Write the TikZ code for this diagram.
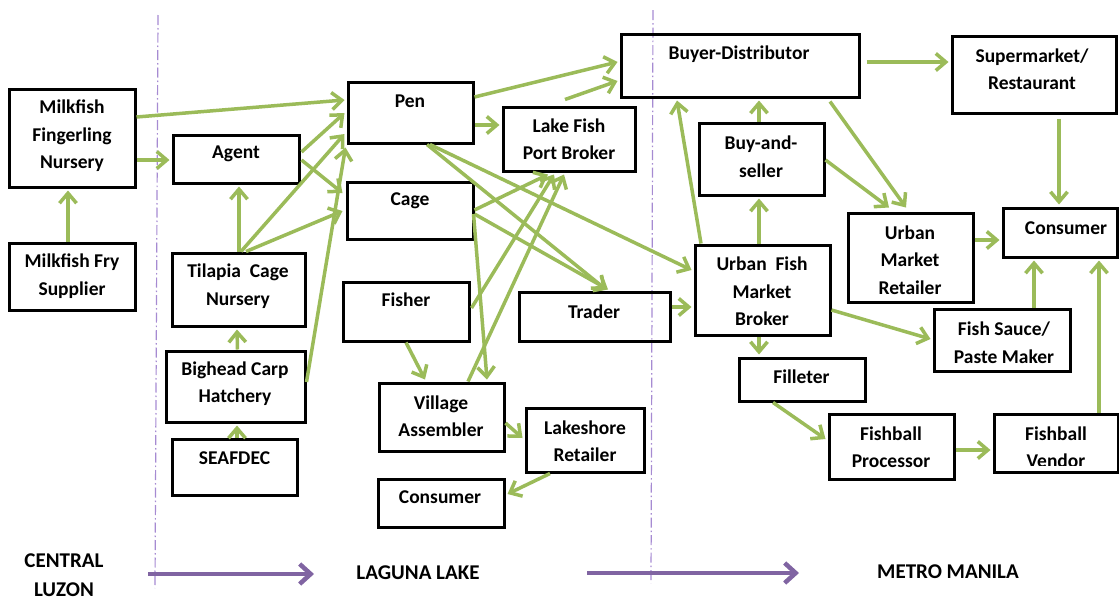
\documentclass[tikz,border=0pt]{standalone}
\usepackage{fontspec}
\setmainfont{Carlito}
\usetikzlibrary{arrows.meta,calc,fit}
\definecolor{arrgreen}{HTML}{9BBB59}
\definecolor{regpurple}{HTML}{8064A2}
\definecolor{divpurple}{HTML}{A68BD2}
\tikzset{
  stagebox/.style={draw=black, line width=3pt, inner sep=0pt, rectangle},
  lbl/.style={font=\fontsize{19.5}{27.5}\selectfont\bfseries, align=center, inner sep=0pt},
  region/.style={font=\fontsize{21}{29}\selectfont\bfseries, align=center, inner sep=0pt},
  arr/.style={draw=arrgreen, line width=3.5pt, -{Straight Barb[length=10pt,width=17pt]}},
  regarrow/.style={draw=regpurple, line width=4.5pt, -{Straight Barb[length=11pt,width=20pt]}},
  divider/.style={draw=divpurple, line width=1.2pt, dash pattern=on 10pt off 3pt on 1.5pt off 3pt}
}
\begin{document}
\begin{tikzpicture}[x=1pt,y=-1pt]
\useasboundingbox (0,0) rectangle (1119,600);

% dividers
\draw[divider] (158,15) -- (155,588);
\draw[divider] (653,10) -- (651,583);

% boxes
\node[stagebox, fit={(9,89) (135,187)}] (fing) {};
\node[stagebox, fit={(9,243) (135,310)}] (fry) {};
\node[stagebox, fit={(173,135) (299,183)}] (agent) {};
\node[stagebox, fit={(172,253) (305,326)}] (tilapia) {};
\node[stagebox, fit={(166,351) (305,422)}] (bighead) {};
\node[stagebox, fit={(172,439) (297,495)}] (seafdec) {};
\node[stagebox, fit={(348,82) (473,143)}] (pen) {};
\node[stagebox, fit={(347,182) (473,239)}] (cage) {};
\node[stagebox, fit={(503,107) (635,171)}] (lfpb) {};
\node[stagebox, fit={(621,34) (859,97)}] (bd) {};
\node[stagebox, fit={(343,282) (469,341)}] (fisher) {};
\node[stagebox, fit={(519,292) (670,341)}] (trader) {};
\node[stagebox, fit={(379,383) (504,451)}] (va) {};
\node[stagebox, fit={(526,408) (644,472)}] (lr) {};
\node[stagebox, fit={(378,479) (504,527)}] (consA) {};
\node[stagebox, fit={(952,36) (1116,113)}] (sr) {};
\node[stagebox, fit={(699,123) (824,195)}] (bs) {};
\node[stagebox, fit={(695,245) (830,335)}] (ufmb) {};
\node[stagebox, fit={(848,213) (973,302)}] (umr) {};
\node[stagebox, fit={(1003,208) (1117,257)}] (consB) {};
\node[stagebox, fit={(934,309) (1070,371)}] (fsp) {};
\node[stagebox, fit={(739,358) (865,401)}] (fil) {};
\node[stagebox, fit={(829,414) (954,479)}] (fbp) {};
\node[stagebox, fit={(994,414) (1118,472)}] (fbv) {};

% texts
\node[lbl] (fing-t) at (72,136) {Milkfish\\Fingerling\\Nursery};
\node[lbl] (fry-t) at (72,276) {Milkfish Fry\\Supplier};
\node[lbl] (agent-t) at (236,154) {Agent};
\node[lbl] (tilapia-t) at (238,286) {Tilapia\ \ Cage\\Nursery};
\node[lbl] (bighead-t) at (235,383.5) {Bighead Carp\\Hatchery};
\node[lbl] (seafdec-t) at (234.5,458) {SEAFDEC};
\node[lbl] (pen-t) at (410,101) {Pen};
\node[lbl] (cage-t) at (410,201) {Cage};
\node[lbl] (lfpb-t) at (569,139) {Lake Fish\\Port Broker};
\node[lbl] (bd-t) at (739,54) {Buyer-Distributor};
\node[lbl] (fisher-t) at (406,300) {Fisher};
\node[lbl] (trader-t) at (594,312) {Trader};
\node[lbl] (va-t) at (441,416) {Village\\Assembler};
\node[lbl] (lr-t) at (585,441) {Lakeshore\\Retailer};
\node[lbl] (consA-t) at (440,497) {Consumer};
\node[lbl] (sr-t) at (1032,69) {Supermarket/\\Restaurant};
\node[lbl] (bs-t) at (761,156.5) {Buy-and-\\seller};
\node[lbl] (ufmb-t) at (762,291.5) {Urban\ \ Fish\\Market\\Broker};
\node[lbl] (umr-t) at (910,260) {Urban\\Market\\Retailer};
\node[lbl] (consB-t) at (1066,228) {Consumer};
\node[lbl] (fsp-t) at (1004,342.5) {Fish Sauce/\\Paste Maker};
\node[lbl] (fil-t) at (801.5,377) {Filleter};
\node[lbl] (fbp-t) at (891,447) {Fishball\\Processor};
\begin{scope}
  \clip (994,414) rectangle (1118,465);
  \node[lbl] (fbv-t) at (1056,447) {Fishball\\Vendor};
\end{scope}

% region labels and arrows
\node[region] (rlA) at (64,575.5) {CENTRAL\\LUZON};
\node[region] (rlB) at (418,573) {LAGUNA LAKE};
\node[region] (rlC) at (948,572) {METRO MANILA};
\coordinate (raS) at (148,574);
\coordinate (raE) at (314,574);
\coordinate (rbS) at (587,573);
\coordinate (rbE) at (799,573);
\draw[regarrow] (raS) -- (raE);
\draw[regarrow] (rbS) -- (rbE);

% connectors
\draw[arr] ($(fry.north)+(-4,0)$) -- ($(fing.south)+(-4,2)$);
\draw[arr] ($(fing.east)+(0,-21)$) -- ($(pen.west)+(-2,-12.5)$);
\draw[arr] ($(fing.east)+(0,22)$) -- ($(agent.west)+(-2,1)$);
\draw[arr] ($(agent.east)+(1,-7)$) -- ($(pen.west)+(-2,0.5)$);
\draw[arr] ($(agent.east)+(1,1)$) -- ($(cage.west)+(-3,-17.5)$);
\draw[arr] ($(tilapia.north)+(0.5,0)$) -- ($(agent.south)+(3,2)$);
\draw[arr] ($(tilapia.north)+(2.5,0)$) -- ($(pen.west)+(-2,21.5)$);
\draw[arr] ($(tilapia.north)+(7.5,0)$) -- ($(cage.west)+(-3,0.5)$);
\draw[arr] ($(bighead.east)+(0,-4.5)$) -- ($(pen.south west)+(-1,3)$);
\draw[arr] ($(bighead.north)+(2,0)$) -- ($(tilapia.south)+(-1.5,2)$);
\draw[arr] ($(seafdec.north)+(2.5,0)$) -- ($(bighead.south)+(1.5,2)$);
\draw[arr] ($(pen.east)+(0,-15.5)$) -- ($(bd.west)+(-2,-3.5)$);
\draw[arr] ($(pen.east)+(0,12.5)$) -- ($(lfpb.west)+(-2,-14)$);
\draw[arr] ($(lfpb.north)+(-4,-6)$) -- ($(bd.west)+(-2,15.5)$);
\draw[arr] ($(pen.south)+(19.5,0)$) -- ($(ufmb.west)+(-2,-20)$);
\draw[arr] ($(pen.south)+(16.5,0)$) -- ($(trader.north)+(11.5,-1)$);
\draw[arr] ($(cage.east)+(0,-0.5)$) -- ($(lfpb.south)+(-21,2)$);
\draw[arr] ($(cage.east)+(0,3.5)$) -- ($(trader.north)+(13.5,-1)$);
\draw[arr] ($(cage.east)+(-1,3.5)$) -- ($(va.north)+(45.5,-2)$);
\draw[arr] ($(fisher.east)+(1,-3.5)$) -- ($(lfpb.south)+(-15,2)$);
\draw[arr] ($(va.north)+(26.5,0)$) -- ($(lfpb.south)+(-5,2)$);
\draw[arr] (fisher.south) -- ($(va.north)+(-16.5,-2)$);
\draw[arr] ($(va.east)+(0,6)$) -- ($(lr.west)+(-2,-2)$);
\draw[arr] ($(lr.south)+(-35,0)$) -- ($(consA.east)+(2,-9)$);
\draw[arr] ($(trader.east)+(0,-9.5)$) -- ($(ufmb.west)+(-2,17)$);
\draw[arr] ($(ufmb.north)+(-61.5,0)$) -- ($(bd.south)+(-63,2)$);
\draw[arr] ($(ufmb.north)+(-3.5,0)$) -- ($(bs.south)+(-2.5,2)$);
\draw[arr] ($(bs.north)+(-2.5,0)$) -- ($(bd.south)+(19,2)$);
\draw[arr] ($(bs.east)+(0,1)$) -- ($(umr.north)+(-21.5,-4)$);
\draw[arr] ($(bd.south)+(90,3)$) -- ($(umr.north)+(-4.5,-4)$);
\draw[arr] ($(bd.east)+(6,-3.5)$) -- ($(sr.west)+(-2,-12.5)$);
\draw[arr] ($(sr.south)+(25,4)$) -- ($(consB.north)+(-1,-2)$);
\draw[arr] ($(umr.east)+(0,-17.5)$) -- ($(consB.west)+(-2,7.5)$);
\draw[arr] ($(fsp.north)+(32,0)$) -- ($(consB.south)+(-26,2)$);
\draw[arr] ($(fbv.north)+(43,0)$) -- ($(consB.south)+(39,2)$);
\draw[arr] ($(ufmb.east)+(0,20)$) -- ($(fsp.west)+(-2,-1)$);
\draw[arr] ($(ufmb.south)+(-3.5,0)$) -- ($(fil.north)+(-43,-2)$);
\draw[arr] ($(fil.south)+(-29,0)$) -- ($(fbp.west)+(-2,-7.5)$);
\draw[arr] ($(fbp.east)+(0,3.5)$) -- ($(fbv.west)+(-2,7)$);
\end{tikzpicture}
\end{document}
